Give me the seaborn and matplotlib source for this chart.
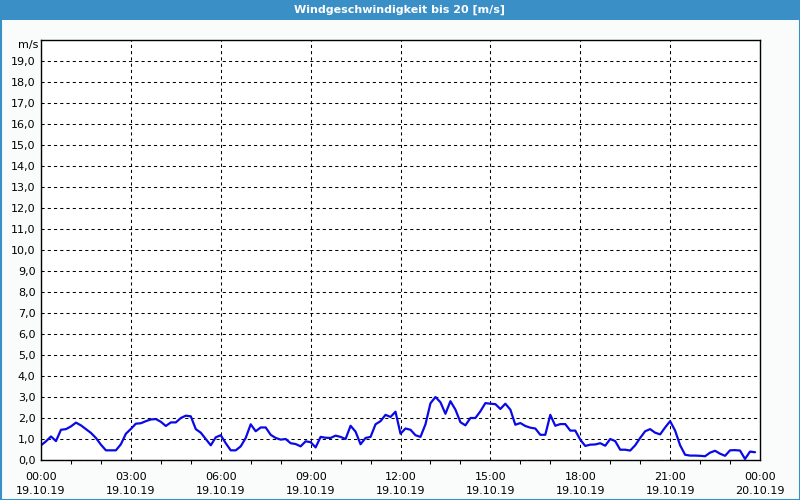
import matplotlib
matplotlib.use("Agg")
import matplotlib.pyplot as plt
from matplotlib.patches import Rectangle
from matplotlib.ticker import MultipleLocator, FixedLocator
import seaborn as sns
import pandas as pd
import numpy as np

# ---- data (10-minute samples, 19.10.19 00:00 .. 23:50) ----
hours = [i / 6 for i in range(144)]
speed = [
    0.70, 0.89, 1.12, 0.90, 1.44, 1.47, 1.60, 1.78, 1.65, 1.47, 1.29, 1.05,
    0.73, 0.46, 0.46, 0.46, 0.75, 1.25, 1.48, 1.73, 1.75, 1.85, 1.93, 1.95,
    1.82, 1.62, 1.79, 1.79, 2.00, 2.11, 2.08, 1.47, 1.30, 1.00, 0.70, 1.08,
    1.18, 0.80, 0.46, 0.46, 0.65, 1.05, 1.70, 1.37, 1.55, 1.55, 1.20, 1.05,
    0.97, 1.00, 0.80, 0.76, 0.65, 0.89, 0.85, 0.60, 1.10, 1.06, 1.05, 1.16,
    1.10, 1.00, 1.63, 1.35, 0.75, 1.05, 1.10, 1.70, 1.85, 2.15, 2.05, 2.30,
    1.25, 1.50, 1.44, 1.18, 1.10, 1.70, 2.70, 3.00, 2.75, 2.20, 2.80, 2.40,
    1.80, 1.65, 2.00, 2.00, 2.32, 2.71, 2.68, 2.66, 2.43, 2.68, 2.40, 1.68,
    1.76, 1.62, 1.54, 1.50, 1.20, 1.20, 2.15, 1.63, 1.71, 1.71, 1.40, 1.40,
    0.97, 0.67, 0.73, 0.74, 0.80, 0.68, 1.00, 0.90, 0.49, 0.49, 0.45, 0.70,
    1.05, 1.37, 1.47, 1.30, 1.22, 1.55, 1.85, 1.40, 0.70, 0.25, 0.21, 0.21,
    0.20, 0.18, 0.35, 0.44, 0.30, 0.20, 0.46, 0.47, 0.45, 0.05, 0.40, 0.37,
]
x_ticks = [0, 3, 6, 9, 12, 15, 18, 21, 24]
x_labels = ["00:00\n19.10.19", "03:00\n19.10.19", "06:00\n19.10.19",
            "09:00\n19.10.19", "12:00\n19.10.19", "15:00\n19.10.19",
            "18:00\n19.10.19", "21:00\n19.10.19", "00:00\n20.10.19"]
y_ticks = list(range(20))
y_labels = [f"{v},0" for v in y_ticks]
title = "Windgeschwindigkeit bis 20 [m/s]"
unit = "m/s"

df = pd.DataFrame({"h": hours, "v": speed})

sns.set_theme(style="white")
plt.rcParams["font.family"] = ["DejaVu Sans"]

bg = "#f9fcfa"
blue = "#3b8fc7"
fig = plt.figure(figsize=(8, 5), dpi=100, facecolor=bg)
ax = fig.add_axes([41 / 800, 40 / 500, 719 / 800, 420 / 500])
ax.set_facecolor("white")

sns.lineplot(data=df, x="h", y="v", ax=ax, color="#0a0ae6", linewidth=1.6)

ax.set_xlim(0, 24)
ax.set_ylim(0, 20)
ax.xaxis.set_major_locator(FixedLocator(x_ticks))
ax.set_xticklabels(x_labels)
ax.xaxis.set_minor_locator(MultipleLocator(1))
ax.yaxis.set_major_locator(FixedLocator(y_ticks))
ax.set_yticklabels(y_labels)
ax.set_xlabel("")
ax.set_ylabel("")

ax.grid(True, which="major", color="black", linestyle=(0, (3, 3)), linewidth=0.75)
ax.tick_params(axis="both", which="major", length=0, labelsize=8, colors="black", pad=4)
ax.tick_params(axis="x", which="minor", length=3, width=0.75, color="black", bottom=True)
ax.tick_params(axis="x", which="major", pad=9)
for lab in ax.get_xticklabels():
    lab.set_linespacing(1.45)
for s in ax.spines.values():
    s.set_visible(True)
    s.set_color("black")
    s.set_linewidth(1.0)

ax.text(-0.004, 19.75, unit, transform=ax.get_yaxis_transform(), ha="right", va="center",
        fontsize=8, color="black")

# title bar and border
fig.patches.append(Rectangle((0, 480 / 500), 1, 20 / 500, transform=fig.transFigure,
                             facecolor=blue, edgecolor="none", zorder=0))
fig.patches.append(Rectangle((0.5 / 800, 0.5 / 500), 799 / 800, 499 / 500, transform=fig.transFigure,
                             facecolor="none", edgecolor=blue, linewidth=1.5, zorder=5))
fig.text(0.5, 490 / 500, title, ha="center", va="center", color="white",
         fontsize=8, fontweight="bold")

fig.savefig("out.png", dpi=100, facecolor=bg)
